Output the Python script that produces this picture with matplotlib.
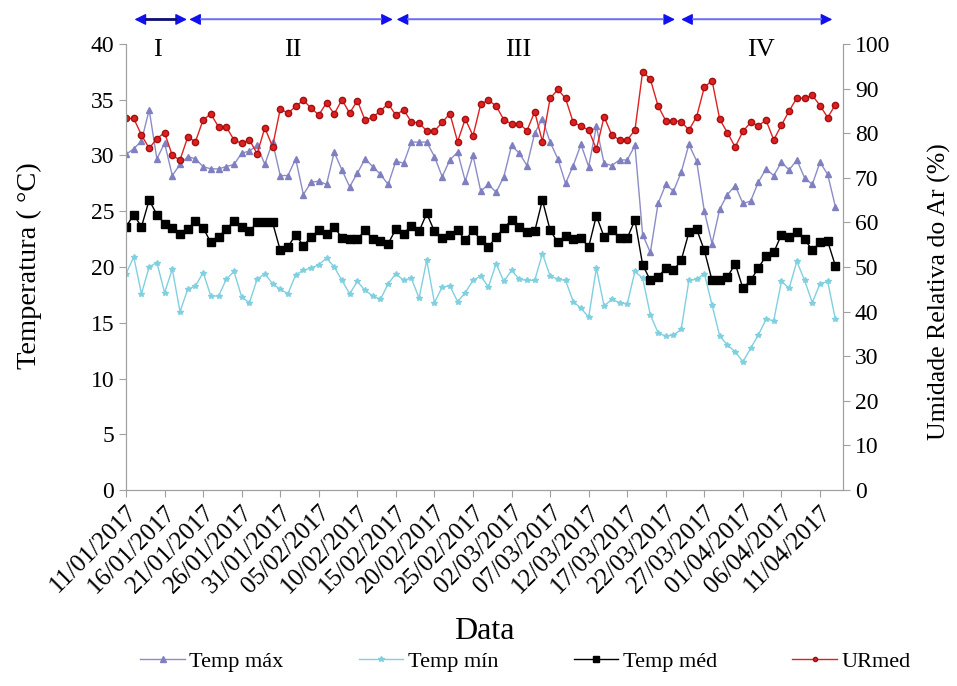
import matplotlib
matplotlib.use("Agg")
import matplotlib.pyplot as plt
import numpy as np
import pandas as pd
from matplotlib.lines import Line2D

# --- DATA (daily, from 11/01/2017) ---
temp_max = [30.1, 30.6, 31.3, 34.1, 29.7, 31.1, 28.2, 29.2, 29.9, 29.7,
            29.0, 28.8, 28.8, 29.0, 29.2, 30.2, 30.4, 30.9, 29.2, 31.2,
            28.2, 28.2, 29.7, 26.5, 27.6, 27.7, 27.4, 30.3, 28.7, 27.2,
            28.4, 29.7, 29.0, 28.3, 27.4, 29.5, 29.3, 31.2, 31.2, 31.2,
            29.9, 28.1, 29.6, 30.3, 27.7, 30.0, 26.8, 27.4, 26.7, 28.1,
            30.9, 30.2, 29.1, 32.0, 33.3, 31.2, 29.7, 27.5, 29.1, 31.0,
            29.0, 32.6, 29.3, 29.1, 29.6, 29.6, 30.9, 22.9, 21.3, 25.7,
            27.4, 26.8, 28.5, 31.0, 29.5, 25.0, 22.1, 25.2, 26.5, 27.3,
            25.7, 25.9, 27.6, 28.8, 28.2, 29.4, 28.7, 29.6, 28.0, 27.4,
            29.4, 28.3, 25.4]

temp_min = [19.4, 20.9, 17.6, 20.0, 20.4, 17.7, 19.8, 16.0, 18.0, 18.3,
            19.5, 17.4, 17.4, 18.9, 19.6, 17.3, 16.8, 18.9, 19.4, 18.5,
            18.0, 17.6, 19.3, 19.7, 19.9, 20.2, 20.8, 20.0, 18.8, 17.6,
            18.7, 17.9, 17.4, 17.1, 18.5, 19.4, 18.8, 19.0, 17.2, 20.6,
            16.8, 18.2, 18.3, 16.9, 17.7, 18.8, 19.2, 18.2, 20.3, 18.7,
            19.7, 18.9, 18.8, 18.8, 21.2, 19.2, 18.9, 18.8, 16.9, 16.3,
            15.5, 19.9, 16.5, 17.1, 16.8, 16.7, 19.6, 19.0, 15.7, 14.1,
            13.8, 13.9, 14.4, 18.8, 18.9, 19.4, 16.6, 13.8, 13.0, 12.4,
            11.5, 12.7, 13.9, 15.3, 15.2, 18.7, 18.1, 20.5, 18.8, 16.8,
            18.5, 18.7, 15.3]

temp_med = [23.6, 24.7, 23.6, 26.0, 24.7, 23.9, 23.5, 23.0, 23.4, 24.1,
            23.5, 22.2, 22.7, 23.4, 24.1, 23.6, 23.2, 24.0, 24.0, 24.0,
            21.5, 21.8, 22.9, 21.9, 22.7, 23.3, 23.0, 23.6, 22.6, 22.5,
            22.5, 23.3, 22.5, 22.3, 22.1, 23.4, 23.0, 23.7, 23.2, 24.8,
            23.2, 22.6, 22.9, 23.3, 22.4, 23.3, 22.4, 21.8, 22.7, 23.5,
            24.2, 23.6, 23.1, 23.2, 26.0, 23.3, 22.2, 22.8, 22.5, 22.6,
            21.8, 24.6, 22.7, 23.3, 22.6, 22.6, 24.2, 20.2, 18.8, 19.1,
            19.9, 19.7, 20.6, 23.1, 23.4, 21.5, 18.8, 18.8, 19.1, 20.3,
            18.1, 18.8, 19.9, 21.0, 21.3, 22.9, 22.7, 23.1, 22.5, 21.5,
            22.2, 22.3, 20.1]

ur_med = [83.3, 83.3, 79.6, 76.6, 78.8, 80.1, 75.0, 74.0, 79.1, 78.1,
          83.0, 84.3, 81.4, 81.4, 78.5, 77.7, 78.5, 75.4, 81.2, 77.0,
          85.4, 84.5, 86.0, 87.4, 85.6, 84.1, 86.8, 84.3, 87.5, 84.5,
          87.3, 82.9, 83.6, 85.0, 86.6, 84.0, 85.3, 82.5, 82.3, 80.5,
          80.5, 82.4, 84.4, 78.1, 83.2, 79.4, 86.5, 87.4, 86.1, 83.0,
          82.1, 82.1, 80.6, 84.8, 78.1, 87.8, 89.8, 87.8, 82.4, 81.6,
          80.7, 76.4, 83.7, 79.6, 78.5, 78.5, 80.7, 93.8, 92.1, 86.1,
          82.8, 82.8, 82.6, 80.7, 83.7, 90.3, 91.8, 83.1, 80.1, 76.9,
          80.4, 82.4, 81.7, 82.9, 78.5, 81.8, 85.0, 87.9, 87.8, 88.5,
          86.2, 83.5, 86.4]

# periods (start day, end day), label position (day) and label
periods = [(1.1, 7.9), (8.2, 34.6), (35.1, 71.2), (72.0, 91.6)]
period_label_x = [4.1, 21.6, 50.8, 82.3]
period_labels = ["I", "II", "III", "IV"]

plt.rcParams["font.family"] = ["Liberation Serif", "DejaVu Serif"]

n = len(ur_med)
days = np.arange(n)
dates = pd.date_range("2017-01-11", periods=n, freq="D")

fig = plt.figure(figsize=(9.57, 6.86), dpi=100)
ax = fig.add_axes([0.1317, 0.2857, 0.7493, 0.6502])
ax2 = ax.twinx()

c_max = "#8c8cc8"
c_min = "#80d0e0"
c_red = "#e02020"

ax.plot(days, temp_max, color=c_max, lw=1.0, marker="^", ms=5,
        mfc="#8080c0", mec="#8080c0", label="Temp máx")
ax.plot(days, temp_min, color=c_min, lw=1.0, marker="*", ms=4,
        mfc=c_min, mec=c_min, label="Temp mín")
ax.plot(days, temp_med, color="black", lw=1.0, marker="s", ms=5.5,
        label="Temp méd")
ax2.plot(days, ur_med, color=c_red, lw=1.0, marker="o", ms=4.5,
         mfc=c_red, mec="#a01010", label="URmed")

ax.set_xlim(0, n)
ax.set_ylim(0, 40)
ax.set_yticks(np.arange(0, 41, 5))
ax2.set_ylim(0, 100)
ax2.set_yticks(np.arange(0, 101, 10))

tick_idx = np.arange(0, n, 5)
ax.set_xticks(tick_idx)
ax.set_xticklabels([dates[i].strftime("%d/%m/%Y") for i in tick_idx],
                   rotation=45, ha="right", rotation_mode="anchor")

for a in (ax, ax2):
    a.spines["top"].set_visible(False)
    for s in ("left", "right", "bottom"):
        a.spines[s].set_color("#a0a0a0")
    a.tick_params(colors="#a0a0a0", labelcolor="black", labelsize=17,
                  direction="out", length=5)
ax.tick_params(axis="x", labelsize=18, pad=3)

ax.set_ylabel("Temperatura ( °C)", fontsize=20.5)
ax.yaxis.set_label_coords(-0.117, 0.504)
ax2.set_ylabel("Umidade Relativa do Ar (%)", fontsize=18.5)
ax2.yaxis.set_label_coords(1.118, 0.445)
ax.set_xlabel("Data", fontsize=23)
ax.xaxis.set_label_coords(0.5, -0.285)

# period arrows above the plot
for i, ((a0, a1), lx, lab) in enumerate(zip(periods, period_label_x, period_labels)):
    ax.annotate("", xy=(a0, 42.2), xytext=(a1, 42.2), xycoords="data",
                annotation_clip=False,
                arrowprops=dict(arrowstyle="<|-|>", color="#1010f0", lw=1.0,
                                mutation_scale=17, shrinkA=0, shrinkB=0))
    line_c = "#101070" if i == 0 else "#8080f8"
    ax.plot([a0 + 1.5, a1 - 1.5], [42.2, 42.2], color=line_c,
            lw=2.0 if i == 0 else 1.2, clip_on=False, zorder=5)
    ax.text(lx, 39.5, lab, ha="center", va="center", fontsize=19)

handles = [
    Line2D([], [], color=c_max, lw=1, marker="^", ms=4, mfc="#8080c0", mec="#8080c0"),
    Line2D([], [], color=c_min, lw=1, marker="*", ms=4, mfc=c_min, mec=c_min),
    Line2D([], [], color="black", lw=1, marker="s", ms=4),
    Line2D([], [], color=c_red, lw=1, marker="o", ms=3, mfc=c_red, mec="#a01010"),
]
fig.legend(handles, ["Temp máx", "Temp mín", "Temp méd", "URmed"],
           loc="center", bbox_to_anchor=(0.549, 0.035), ncol=4, frameon=False,
           fontsize=16, handlelength=2.0, columnspacing=3.4, handletextpad=0.2)

fig.savefig("out.png", dpi=100)
